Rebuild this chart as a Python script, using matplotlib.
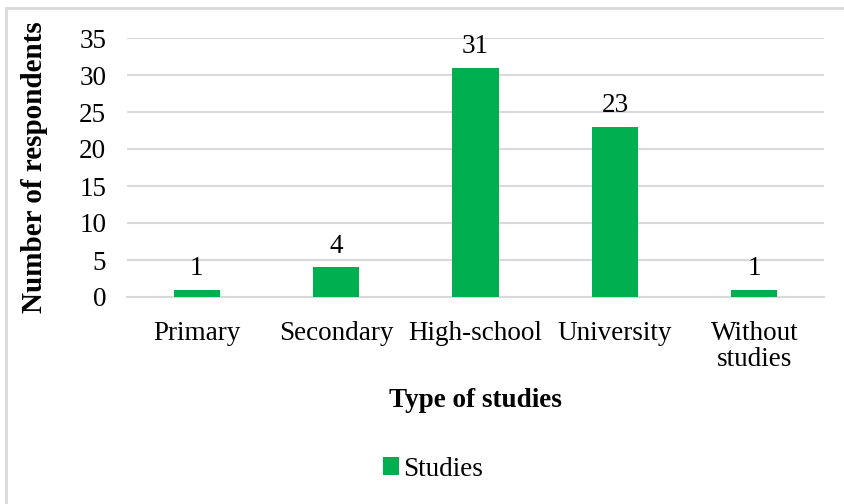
import matplotlib.pyplot as plt
from matplotlib.patches import Rectangle

# Respondents by type of studies
categories = ['Primary', 'Secondary', 'High-school', 'University', 'Without\nstudies']
counts = [1, 4, 31, 23, 1]
yticks = [0, 5, 10, 15, 20, 25, 30, 35]

green = '#00B050'
grid = '#D9D9D9'
fs = 19.5

plt.rcParams['font.family'] = ['Liberation Serif', 'DejaVu Serif']

fig = plt.figure(figsize=(8.45, 5.04), dpi=100)
W, H = 845, 504

# outer chart frame (runs off the right and bottom edges)
fig.patches.append(Rectangle((6 / W, -0.01), 1.0, 1 - 8 / H + 0.01,
                             transform=fig.transFigure, fill=False,
                             edgecolor=grid, linewidth=2))

ax = fig.add_axes([127 / W, 1 - 297 / H, (824 - 127) / W, (297 - 38) / H])
x = range(len(categories))
bars = ax.bar(x, counts, width=0.33, color=green, zorder=3, label='Studies')

ax.set_xlim(-0.5, len(categories) - 0.5)
ax.set_ylim(0, 35)
ax.set_yticks(yticks)
ax.set_xticks(list(x))
ax.set_xticklabels(categories, linespacing=1.05)
ax.yaxis.grid(True, color=grid, linewidth=1.5, zorder=0)
ax.set_axisbelow(True)
for side in ['top', 'right', 'left']:
    ax.spines[side].set_visible(False)
ax.spines['bottom'].set_color(grid)
ax.spines['bottom'].set_linewidth(1.5)
ax.tick_params(axis='both', length=0, labelsize=fs, colors='black')
ax.tick_params(axis='x', pad=17)
ax.tick_params(axis='y', pad=15)

for rect, v in zip(bars, counts):
    ax.text(rect.get_x() + rect.get_width() / 2, v + 1.2, str(v),
            ha='center', va='bottom', fontsize=fs)

ax.set_ylabel('Number of respondents', fontsize=21, fontweight='bold')
ax.yaxis.set_label_coords(-0.113, 0.5)
ax.set_xlabel('Type of studies', fontsize=fs, fontweight='bold')
ax.xaxis.set_label_coords(0.5, -0.35)

leg = fig.legend(loc='center', bbox_to_anchor=(433 / W, 1 - 469 / H),
                 frameon=False, fontsize=fs, handlelength=0.6, handleheight=0.6,
                 handletextpad=0.15)

fig.savefig('out.png', dpi=100)
